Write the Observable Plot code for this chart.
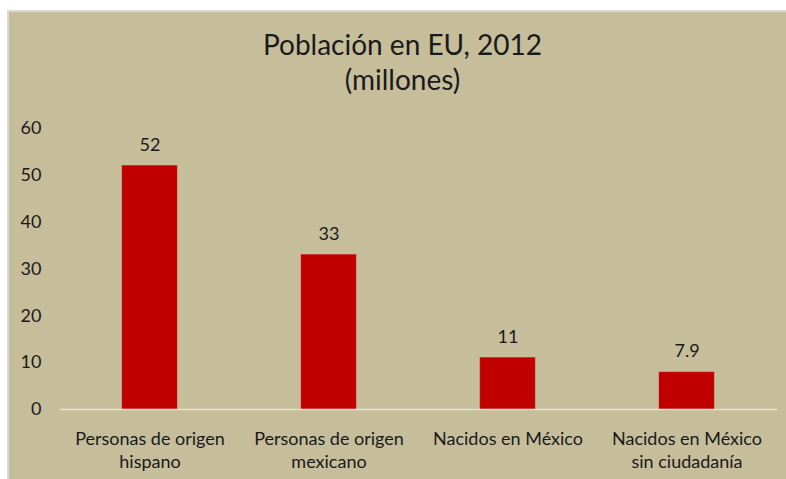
<!DOCTYPE html>
<html>
<head>
<meta charset="utf-8">
<script src="https://cdn.jsdelivr.net/npm/d3@7"></script>
<script src="https://cdn.jsdelivr.net/npm/@observablehq/plot@0.6"></script>
<style>
  html, body { margin: 0; padding: 0; background: #ffffff; }
  #frame {
    position: absolute; left: 7px; top: 10px; width: 779px; height: 469px;
    background: #C6BD9A; box-shadow: inset 2px 2px 0 #d9d9d6; overflow: hidden;
    font-family: Lato, "Open Sans", sans-serif; color: #1a1a1a;
  }
  #title {
    height: 95px; box-sizing: border-box; padding-top: 17px; padding-left: 12px;
    text-align: center; font-size: 28px; line-height: 35px; color: #1a1a1a;
  }
  #chart svg { display: block; }
</style>
</head>
<body>
<div id="frame">
  <div id="title">Población en EU, 2012<br>(millones)</div>
  <div id="chart"></div>
</div>
<script>
const categories = [
  "Personas de origen\nhispano",
  "Personas de origen\nmexicano",
  "Nacidos en México",
  "Nacidos en México\nsin ciudadanía"
];
const values = [52, 33, 11, 7.9];
const valueLabels = ["52", "33", "11", "7.9"];
const yTicks = [0, 10, 20, 30, 40, 50, 60];

const data = categories.map((c, i) => ({category: c, value: values[i], label: valueLabels[i]}));

const chart = Plot.plot({
  width: 779,
  height: 374,
  marginTop: 23,
  marginBottom: 70,
  marginLeft: 53,
  marginRight: 9,
  style: {background: "transparent", fontFamily: "Lato, 'Open Sans', sans-serif", fontSize: "18px", color: "#1a1a1a"},
  x: {domain: categories, paddingInner: 0.69, paddingOuter: 0.345, label: null},
  y: {domain: [0, 60], label: null},
  marks: [
    Plot.axisY({ticks: yTicks, tickSize: 0, tickPadding: 19, label: null, fontSize: 18}),
    Plot.axisX({tickSize: 0, tickPadding: 18, label: null, fontSize: 18, lineHeight: 1.33}),
    Plot.barY(data, {x: "category", y: "value", fill: "#C00000", stroke: "#c82020", strokeWidth: 0.5}),
    Plot.ruleY([0], {stroke: "#e6e3d8", strokeWidth: 1.5}),
    Plot.text(data, {x: "category", y: "value", text: "label", dy: -21, fontSize: 18, fill: "#1a1a1a"})
  ]
});
document.getElementById("chart").appendChild(chart);
</script>
</body>
</html>
